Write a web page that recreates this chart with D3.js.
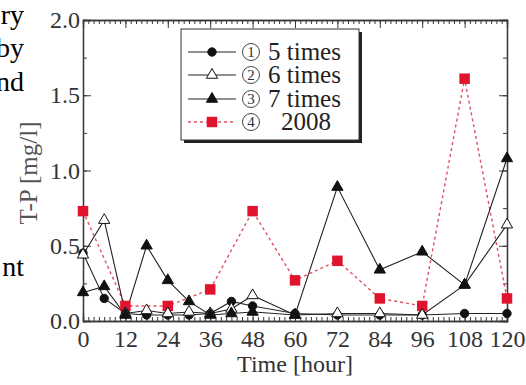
<!DOCTYPE html>
<html>
<head>
<meta charset="utf-8">
<script src="https://cdn.jsdelivr.net/npm/d3@7/dist/d3.min.js"></script>
<style>
  html, body { margin: 0; padding: 0; background: #fff; }
  svg { display: block; }
  text.serif { font-family: "Liberation Serif", "Times New Roman", Times, serif; }
</style>
</head>
<body>
<svg id="chart" width="526" height="385"></svg>
<script>
// Sampling times (hours) and total phosphorus (mg/l) for each run
const hours = [0, 6, 12, 18, 24, 30, 36, 42, 48, 60, 72, 84, 96, 108, 120];
const fiveTimes  = [0.45, 0.15, 0.05, 0.04, 0.04, 0.04, 0.05, 0.13, 0.10, 0.05, 0.04, 0.04, 0.04, 0.05, 0.05];
const sixTimes   = [0.44, 0.67, 0.05, 0.07, 0.05, 0.06, 0.05, 0.08, 0.17, 0.04, 0.05, 0.05, 0.04, 0.24, 0.64];
const sevenTimes = [0.19, 0.23, 0.04, 0.50, 0.27, 0.13, 0.04, 0.05, 0.06, 0.04, 0.89, 0.34, 0.46, 0.24, 1.08];
const hours2008  = [0, 12, 24, 36, 48, 60, 72, 84, 96, 108, 120];
const tp2008     = [0.73, 0.10, 0.10, 0.21, 0.73, 0.27, 0.40, 0.15, 0.10, 1.61, 0.15];

const seriesNames = ["5 times", "6 times", "7 times", "2008"];
const seriesIndex = ["1", "2", "3", "4"];
const xTickValues = [0, 12, 24, 36, 48, 60, 72, 84, 96, 108, 120];
const yTickValues = [0, 0.5, 1.0, 1.5, 2.0];
const xTitle = "Time [hour]";
const yTitle = "T-P [mg/l]";
const sideText = [["ry", 24], ["by", 57], ["nd", 91], ["nt", 276]];

const SERIF = "'Liberation Serif', 'Times New Roman', Times, serif";

const svg = d3.select("#chart");
const plot = { left: 83, right: 507, top: 20, bottom: 321 };

const x = d3.scaleLinear().domain([0, 120]).range([plot.left, plot.right]);
const y = d3.scaleLinear().domain([0, 2]).range([plot.bottom, plot.top]);

const axisColor = "#3a3a3a";
const labelColor = "#333";

// Surrounding body text fragments at the left edge
svg.append("g").selectAll("text").data(sideText).join("text")
  .attr("class", "serif")
  .attr("x", 24).attr("y", d => d[1])
  .attr("text-anchor", "end")
  .attr("font-size", 28)
  .attr("fill", "#000")
  .text(d => d[0]);

// Frame axes: ticks point inwards on all four sides
const minorX = d3.range(0, 120.01, 1.5);
const minorY = d3.range(0, 2.001, 0.25);

const axG = svg.append("g");
axG.append("g").attr("transform", `translate(0,${plot.bottom})`)
  .call(d3.axisBottom(x).tickValues(minorX).tickSize(-4).tickFormat(""));
axG.append("g").attr("transform", `translate(0,${plot.bottom})`)
  .call(d3.axisBottom(x).tickValues(xTickValues).tickSize(-8).tickPadding(9).tickFormat(d3.format("d")));
axG.append("g").attr("transform", `translate(0,${plot.top})`)
  .call(d3.axisTop(x).tickValues(minorX).tickSize(-4).tickFormat(""));
axG.append("g").attr("transform", `translate(0,${plot.top})`)
  .call(d3.axisTop(x).tickValues(xTickValues).tickSize(-8).tickFormat(""));
axG.append("g").attr("transform", `translate(${plot.left},0)`)
  .call(d3.axisLeft(y).tickValues(minorY).tickSize(-4).tickFormat(""));
axG.append("g").attr("transform", `translate(${plot.left},0)`)
  .call(d3.axisLeft(y).tickValues(yTickValues).tickSize(-8).tickPadding(3).tickFormat(d3.format(".1f")));
axG.append("g").attr("transform", `translate(${plot.right},0)`)
  .call(d3.axisRight(y).tickValues(minorY).tickSize(-4).tickFormat(""));
axG.append("g").attr("transform", `translate(${plot.right},0)`)
  .call(d3.axisRight(y).tickValues(yTickValues).tickSize(-8).tickFormat(""));

axG.selectAll(".domain").attr("stroke", axisColor).attr("stroke-width", 1.3);
axG.selectAll(".tick line").attr("stroke", axisColor).attr("stroke-width", 1);
axG.selectAll("g").attr("font-family", SERIF);
axG.selectAll(".tick text")
  .attr("class", "serif")
  .attr("font-size", 24)
  .attr("fill", labelColor);

// Axis titles
svg.append("text")
  .attr("class", "serif")
  .attr("x", 295).attr("y", 372)
  .attr("text-anchor", "middle")
  .attr("font-size", 24)
  .attr("fill", labelColor)
  .text(xTitle);
svg.append("text")
  .attr("class", "serif")
  .attr("transform", "translate(37,173) rotate(-90)")
  .attr("text-anchor", "middle")
  .attr("font-size", 25)
  .attr("fill", "#555")
  .text(yTitle);

// Series definitions
const series = [
  { name: seriesNames[0], xs: hours, ys: fiveTimes, marker: "circle", fill: "#111", stroke: "#222", dash: null },
  { name: seriesNames[1], xs: hours, ys: sixTimes, marker: "triangle", fill: "#fff", stroke: "#222", dash: null },
  { name: seriesNames[2], xs: hours, ys: sevenTimes, marker: "triangle", fill: "#111", stroke: "#222", dash: null },
  { name: seriesNames[3], xs: hours2008, ys: tp2008, marker: "square", fill: "#e0142c", stroke: "#e2505f", dash: "3,3" }
];

const symbolFor = s => {
  if (s.marker === "circle") return d3.symbol().type(d3.symbolCircle).size(55)();
  if (s.marker === "triangle") return d3.symbol().type(d3.symbolTriangle).size(55)();
  return d3.symbol().type(d3.symbolSquare).size(110)();
};

const line = d3.line().x(d => x(d[0])).y(d => y(d[1]));

const dataG = svg.append("g");
// Draw the 2008 series first so the black runs sit on top
[3, 0, 1, 2].forEach(i => {
  const s = series[i];
  const pts = s.xs.map((h, j) => [h, s.ys[j]]);
  dataG.append("path")
    .attr("d", line(pts))
    .attr("fill", "none")
    .attr("stroke", s.stroke)
    .attr("stroke-width", s.dash ? 1.4 : 1.1)
    .attr("stroke-dasharray", s.dash);
});
[3, 0, 1, 2].forEach(i => {
  const s = series[i];
  const pts = s.xs.map((h, j) => [h, s.ys[j]]);
  dataG.append("g").selectAll("path").data(pts).join("path")
    .attr("transform", d => `translate(${x(d[0])},${y(d[1])})`)
    .attr("d", symbolFor(s))
    .attr("fill", s.fill)
    .attr("stroke", s.marker === "square" ? "none" : "#111")
    .attr("stroke-width", 1);
});

// Legend with drop shadow
const lg = svg.append("g");
const box = { x: 181, y: 29, w: 178, h: 111 };
lg.append("rect").attr("x", box.x + 3).attr("y", box.y + 3).attr("width", box.w).attr("height", box.h)
  .attr("fill", "#222");
lg.append("rect").attr("x", box.x).attr("y", box.y).attr("width", box.w).attr("height", box.h)
  .attr("fill", "#fff").attr("stroke", "#333").attr("stroke-width", 1);

const rowY = [52, 75, 99, 122];
series.forEach((s, i) => {
  const ry = rowY[i];
  lg.append("line")
    .attr("x1", 188).attr("x2", 236).attr("y1", ry).attr("y2", ry)
    .attr("stroke", s.stroke).attr("stroke-width", s.dash ? 1.4 : 1.1)
    .attr("stroke-dasharray", s.dash);
  lg.append("path")
    .attr("transform", `translate(212,${ry})`)
    .attr("d", symbolFor(s))
    .attr("fill", s.fill)
    .attr("stroke", s.marker === "square" ? "none" : "#111");
  // Encircled run index
  lg.append("circle")
    .attr("cx", 251).attr("cy", ry)
    .attr("r", 8.5)
    .attr("fill", "none")
    .attr("stroke", "#444")
    .attr("stroke-width", 1);
  lg.append("text")
    .attr("class", "serif")
    .attr("x", 251).attr("y", ry + 5)
    .attr("text-anchor", "middle")
    .attr("font-size", 15)
    .attr("fill", "#333")
    .text(seriesIndex[i]);
  lg.append("text")
    .attr("class", "serif")
    .attr("x", s.name === "2008" ? 281 : 268).attr("y", ry + 8)
    .attr("font-size", 25)
    .attr("fill", "#222")
    .text(s.name);
});
</script>
</body>
</html>
